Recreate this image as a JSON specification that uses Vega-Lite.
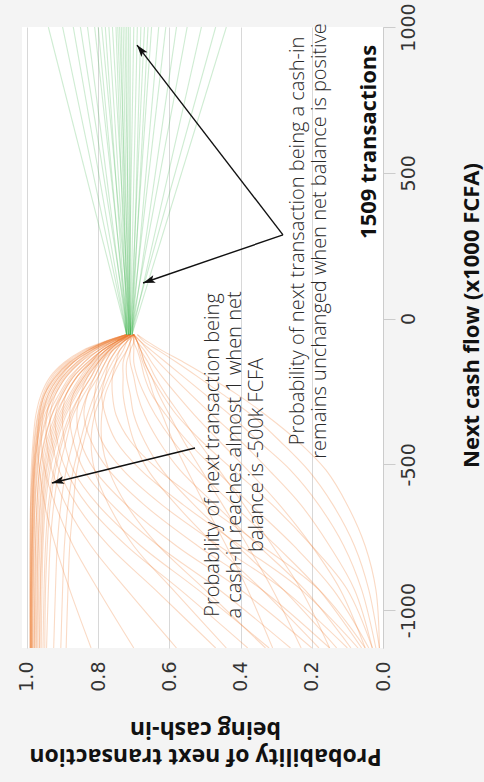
{
"$schema": "https://vega.github.io/schema/vega-lite/v6.json",
"width": 361, "height": 621,
"autosize": {"type": "none"},
"padding": {"left": 22, "top": 27, "right": 101, "bottom": 134},
"background": "#f4f4f4",
"config": {"view": {"fill": "white", "stroke": null}, "font": "Open Sans"},
"datasets": {
"orange": [
{"id":"A1","c":-55,"p":0.72},{"id":"A1","c":-80,"p":0.78},{"id":"A1","c":-110,"p":0.84},{"id":"A1","c":-150,"p":0.89},{"id":"A1","c":-200,"p":0.93},{"id":"A1","c":-260,"p":0.955},{"id":"A1","c":-330,"p":0.97},{"id":"A1","c":-420,"p":0.98},{"id":"A1","c":-520,"p":0.985},{"id":"A1","c":-640,"p":0.99},{"id":"A1","c":-780,"p":0.99},{"id":"A1","c":-930,"p":0.99},{"id":"A1","c":-1130,"p":0.99},
{"id":"A2","c":-55,"p":0.72},{"id":"A2","c":-80,"p":0.78},{"id":"A2","c":-110,"p":0.83},{"id":"A2","c":-150,"p":0.88},{"id":"A2","c":-200,"p":0.92},{"id":"A2","c":-260,"p":0.95},{"id":"A2","c":-330,"p":0.965},{"id":"A2","c":-420,"p":0.975},{"id":"A2","c":-520,"p":0.982},{"id":"A2","c":-640,"p":0.986},{"id":"A2","c":-780,"p":0.988},{"id":"A2","c":-930,"p":0.99},{"id":"A2","c":-1130,"p":0.99},
{"id":"A3","c":-55,"p":0.72},{"id":"A3","c":-80,"p":0.77},{"id":"A3","c":-110,"p":0.82},{"id":"A3","c":-150,"p":0.87},{"id":"A3","c":-200,"p":0.91},{"id":"A3","c":-260,"p":0.94},{"id":"A3","c":-330,"p":0.96},{"id":"A3","c":-420,"p":0.972},{"id":"A3","c":-520,"p":0.98},{"id":"A3","c":-640,"p":0.984},{"id":"A3","c":-780,"p":0.986},{"id":"A3","c":-930,"p":0.988},{"id":"A3","c":-1130,"p":0.988},
{"id":"A4","c":-55,"p":0.72},{"id":"A4","c":-80,"p":0.77},{"id":"A4","c":-110,"p":0.82},{"id":"A4","c":-150,"p":0.86},{"id":"A4","c":-200,"p":0.9},{"id":"A4","c":-260,"p":0.93},{"id":"A4","c":-330,"p":0.955},{"id":"A4","c":-420,"p":0.97},{"id":"A4","c":-520,"p":0.978},{"id":"A4","c":-640,"p":0.982},{"id":"A4","c":-780,"p":0.985},{"id":"A4","c":-930,"p":0.986},{"id":"A4","c":-1130,"p":0.987},
{"id":"A5","c":-55,"p":0.71},{"id":"A5","c":-80,"p":0.76},{"id":"A5","c":-110,"p":0.81},{"id":"A5","c":-150,"p":0.85},{"id":"A5","c":-200,"p":0.89},{"id":"A5","c":-260,"p":0.92},{"id":"A5","c":-330,"p":0.95},{"id":"A5","c":-420,"p":0.965},{"id":"A5","c":-520,"p":0.975},{"id":"A5","c":-640,"p":0.98},{"id":"A5","c":-780,"p":0.983},{"id":"A5","c":-930,"p":0.985},{"id":"A5","c":-1130,"p":0.985},
{"id":"A6","c":-55,"p":0.71},{"id":"A6","c":-80,"p":0.76},{"id":"A6","c":-110,"p":0.8},{"id":"A6","c":-150,"p":0.84},{"id":"A6","c":-200,"p":0.88},{"id":"A6","c":-260,"p":0.91},{"id":"A6","c":-330,"p":0.94},{"id":"A6","c":-420,"p":0.96},{"id":"A6","c":-520,"p":0.97},{"id":"A6","c":-640,"p":0.977},{"id":"A6","c":-780,"p":0.98},{"id":"A6","c":-930,"p":0.982},{"id":"A6","c":-1130,"p":0.983},
{"id":"A7","c":-55,"p":0.71},{"id":"A7","c":-80,"p":0.75},{"id":"A7","c":-110,"p":0.79},{"id":"A7","c":-150,"p":0.83},{"id":"A7","c":-200,"p":0.87},{"id":"A7","c":-260,"p":0.9},{"id":"A7","c":-330,"p":0.93},{"id":"A7","c":-420,"p":0.95},{"id":"A7","c":-520,"p":0.965},{"id":"A7","c":-640,"p":0.972},{"id":"A7","c":-780,"p":0.976},{"id":"A7","c":-930,"p":0.978},{"id":"A7","c":-1130,"p":0.98},
{"id":"A8","c":-55,"p":0.71},{"id":"A8","c":-80,"p":0.75},{"id":"A8","c":-110,"p":0.79},{"id":"A8","c":-150,"p":0.82},{"id":"A8","c":-200,"p":0.86},{"id":"A8","c":-260,"p":0.89},{"id":"A8","c":-330,"p":0.92},{"id":"A8","c":-420,"p":0.945},{"id":"A8","c":-520,"p":0.96},{"id":"A8","c":-640,"p":0.968},{"id":"A8","c":-780,"p":0.972},{"id":"A8","c":-930,"p":0.975},{"id":"A8","c":-1130,"p":0.977},
{"id":"A9","c":-55,"p":0.71},{"id":"A9","c":-80,"p":0.75},{"id":"A9","c":-110,"p":0.78},{"id":"A9","c":-150,"p":0.82},{"id":"A9","c":-200,"p":0.85},{"id":"A9","c":-260,"p":0.88},{"id":"A9","c":-330,"p":0.91},{"id":"A9","c":-420,"p":0.935},{"id":"A9","c":-520,"p":0.952},{"id":"A9","c":-640,"p":0.962},{"id":"A9","c":-780,"p":0.968},{"id":"A9","c":-930,"p":0.97},{"id":"A9","c":-1130,"p":0.972},
{"id":"A10","c":-55,"p":0.71},{"id":"A10","c":-80,"p":0.74},{"id":"A10","c":-110,"p":0.78},{"id":"A10","c":-150,"p":0.81},{"id":"A10","c":-200,"p":0.84},{"id":"A10","c":-260,"p":0.87},{"id":"A10","c":-330,"p":0.9},{"id":"A10","c":-420,"p":0.925},{"id":"A10","c":-520,"p":0.945},{"id":"A10","c":-640,"p":0.955},{"id":"A10","c":-780,"p":0.96},{"id":"A10","c":-930,"p":0.963},{"id":"A10","c":-1130,"p":0.965},
{"id":"A11","c":-55,"p":0.71},{"id":"A11","c":-80,"p":0.74},{"id":"A11","c":-110,"p":0.77},{"id":"A11","c":-150,"p":0.8},{"id":"A11","c":-200,"p":0.83},{"id":"A11","c":-260,"p":0.86},{"id":"A11","c":-330,"p":0.89},{"id":"A11","c":-420,"p":0.915},{"id":"A11","c":-520,"p":0.935},{"id":"A11","c":-640,"p":0.948},{"id":"A11","c":-780,"p":0.955},{"id":"A11","c":-930,"p":0.958},{"id":"A11","c":-1130,"p":0.96},
{"id":"A12","c":-55,"p":0.7},{"id":"A12","c":-80,"p":0.74},{"id":"A12","c":-110,"p":0.77},{"id":"A12","c":-150,"p":0.8},{"id":"A12","c":-200,"p":0.82},{"id":"A12","c":-260,"p":0.85},{"id":"A12","c":-330,"p":0.88},{"id":"A12","c":-420,"p":0.905},{"id":"A12","c":-520,"p":0.925},{"id":"A12","c":-640,"p":0.94},{"id":"A12","c":-780,"p":0.948},{"id":"A12","c":-930,"p":0.952},{"id":"A12","c":-1130,"p":0.955},
{"id":"A13","c":-55,"p":0.7},{"id":"A13","c":-80,"p":0.73},{"id":"A13","c":-110,"p":0.76},{"id":"A13","c":-150,"p":0.79},{"id":"A13","c":-200,"p":0.81},{"id":"A13","c":-260,"p":0.84},{"id":"A13","c":-330,"p":0.87},{"id":"A13","c":-420,"p":0.89},{"id":"A13","c":-520,"p":0.91},{"id":"A13","c":-640,"p":0.925},{"id":"A13","c":-780,"p":0.935},{"id":"A13","c":-930,"p":0.94},{"id":"A13","c":-1130,"p":0.945},
{"id":"A14","c":-55,"p":0.7},{"id":"A14","c":-80,"p":0.73},{"id":"A14","c":-110,"p":0.76},{"id":"A14","c":-150,"p":0.78},{"id":"A14","c":-200,"p":0.8},{"id":"A14","c":-260,"p":0.83},{"id":"A14","c":-330,"p":0.85},{"id":"A14","c":-420,"p":0.87},{"id":"A14","c":-520,"p":0.89},{"id":"A14","c":-640,"p":0.905},{"id":"A14","c":-780,"p":0.915},{"id":"A14","c":-930,"p":0.92},{"id":"A14","c":-1130,"p":0.925},
{"id":"A15","c":-55,"p":0.7},{"id":"A15","c":-80,"p":0.73},{"id":"A15","c":-110,"p":0.75},{"id":"A15","c":-150,"p":0.77},{"id":"A15","c":-200,"p":0.79},{"id":"A15","c":-260,"p":0.81},{"id":"A15","c":-330,"p":0.83},{"id":"A15","c":-420,"p":0.85},{"id":"A15","c":-520,"p":0.87},{"id":"A15","c":-640,"p":0.885},{"id":"A15","c":-780,"p":0.895},{"id":"A15","c":-930,"p":0.9},{"id":"A15","c":-1130,"p":0.905},
{"id":"A16","c":-55,"p":0.7},{"id":"A16","c":-80,"p":0.72},{"id":"A16","c":-110,"p":0.74},{"id":"A16","c":-150,"p":0.76},{"id":"A16","c":-200,"p":0.78},{"id":"A16","c":-260,"p":0.8},{"id":"A16","c":-330,"p":0.82},{"id":"A16","c":-420,"p":0.84},{"id":"A16","c":-520,"p":0.86},{"id":"A16","c":-640,"p":0.87},{"id":"A16","c":-780,"p":0.88},{"id":"A16","c":-930,"p":0.885},{"id":"A16","c":-1130,"p":0.89},
{"id":"A17","c":-55,"p":0.72},{"id":"A17","c":-80,"p":0.785},{"id":"A17","c":-110,"p":0.845},{"id":"A17","c":-150,"p":0.895},{"id":"A17","c":-200,"p":0.935},{"id":"A17","c":-260,"p":0.96},{"id":"A17","c":-330,"p":0.975},{"id":"A17","c":-420,"p":0.983},{"id":"A17","c":-520,"p":0.988},{"id":"A17","c":-640,"p":0.99},{"id":"A17","c":-780,"p":0.992},{"id":"A17","c":-930,"p":0.992},{"id":"A17","c":-1130,"p":0.992},
{"id":"A18","c":-55,"p":0.715},{"id":"A18","c":-80,"p":0.775},{"id":"A18","c":-110,"p":0.83},{"id":"A18","c":-150,"p":0.875},{"id":"A18","c":-200,"p":0.915},{"id":"A18","c":-260,"p":0.945},{"id":"A18","c":-330,"p":0.962},{"id":"A18","c":-420,"p":0.974},{"id":"A18","c":-520,"p":0.981},{"id":"A18","c":-640,"p":0.985},{"id":"A18","c":-780,"p":0.987},{"id":"A18","c":-930,"p":0.988},{"id":"A18","c":-1130,"p":0.988},
{"id":"A19","c":-55,"p":0.715},{"id":"A19","c":-80,"p":0.765},{"id":"A19","c":-110,"p":0.815},{"id":"A19","c":-150,"p":0.855},{"id":"A19","c":-200,"p":0.895},{"id":"A19","c":-260,"p":0.925},{"id":"A19","c":-330,"p":0.945},{"id":"A19","c":-420,"p":0.962},{"id":"A19","c":-520,"p":0.972},{"id":"A19","c":-640,"p":0.978},{"id":"A19","c":-780,"p":0.981},{"id":"A19","c":-930,"p":0.983},{"id":"A19","c":-1130,"p":0.984},
{"id":"A20","c":-55,"p":0.71},{"id":"A20","c":-80,"p":0.755},{"id":"A20","c":-110,"p":0.8},{"id":"A20","c":-150,"p":0.84},{"id":"A20","c":-200,"p":0.875},{"id":"A20","c":-260,"p":0.905},{"id":"A20","c":-330,"p":0.93},{"id":"A20","c":-420,"p":0.952},{"id":"A20","c":-520,"p":0.965},{"id":"A20","c":-640,"p":0.972},{"id":"A20","c":-780,"p":0.976},{"id":"A20","c":-930,"p":0.978},{"id":"A20","c":-1130,"p":0.979},
{"id":"A21","c":-55,"p":0.71},{"id":"A21","c":-80,"p":0.75},{"id":"A21","c":-110,"p":0.79},{"id":"A21","c":-150,"p":0.825},{"id":"A21","c":-200,"p":0.86},{"id":"A21","c":-260,"p":0.89},{"id":"A21","c":-330,"p":0.915},{"id":"A21","c":-420,"p":0.94},{"id":"A21","c":-520,"p":0.955},{"id":"A21","c":-640,"p":0.964},{"id":"A21","c":-780,"p":0.969},{"id":"A21","c":-930,"p":0.972},{"id":"A21","c":-1130,"p":0.974},
{"id":"A22","c":-55,"p":0.71},{"id":"A22","c":-80,"p":0.745},{"id":"A22","c":-110,"p":0.78},{"id":"A22","c":-150,"p":0.815},{"id":"A22","c":-200,"p":0.845},{"id":"A22","c":-260,"p":0.875},{"id":"A22","c":-330,"p":0.905},{"id":"A22","c":-420,"p":0.93},{"id":"A22","c":-520,"p":0.948},{"id":"A22","c":-640,"p":0.958},{"id":"A22","c":-780,"p":0.964},{"id":"A22","c":-930,"p":0.967},{"id":"A22","c":-1130,"p":0.969},
{"id":"A23","c":-55,"p":0.71},{"id":"A23","c":-80,"p":0.745},{"id":"A23","c":-110,"p":0.775},{"id":"A23","c":-150,"p":0.805},{"id":"A23","c":-200,"p":0.835},{"id":"A23","c":-260,"p":0.865},{"id":"A23","c":-330,"p":0.895},{"id":"A23","c":-420,"p":0.92},{"id":"A23","c":-520,"p":0.94},{"id":"A23","c":-640,"p":0.952},{"id":"A23","c":-780,"p":0.958},{"id":"A23","c":-930,"p":0.962},{"id":"A23","c":-1130,"p":0.964},
{"id":"A24","c":-55,"p":0.705},{"id":"A24","c":-80,"p":0.735},{"id":"A24","c":-110,"p":0.765},{"id":"A24","c":-150,"p":0.795},{"id":"A24","c":-200,"p":0.82},{"id":"A24","c":-260,"p":0.85},{"id":"A24","c":-330,"p":0.875},{"id":"A24","c":-420,"p":0.9},{"id":"A24","c":-520,"p":0.92},{"id":"A24","c":-640,"p":0.935},{"id":"A24","c":-780,"p":0.943},{"id":"A24","c":-930,"p":0.948},{"id":"A24","c":-1130,"p":0.95},
{"id":"A25","c":-55,"p":0.72},{"id":"A25","c":-80,"p":0.78},{"id":"A25","c":-110,"p":0.835},{"id":"A25","c":-150,"p":0.885},{"id":"A25","c":-200,"p":0.925},{"id":"A25","c":-260,"p":0.952},{"id":"A25","c":-330,"p":0.968},{"id":"A25","c":-420,"p":0.978},{"id":"A25","c":-520,"p":0.984},{"id":"A25","c":-640,"p":0.988},{"id":"A25","c":-780,"p":0.99},{"id":"A25","c":-930,"p":0.991},{"id":"A25","c":-1130,"p":0.991},
{"id":"A26","c":-55,"p":0.715},{"id":"A26","c":-80,"p":0.77},{"id":"A26","c":-110,"p":0.825},{"id":"A26","c":-150,"p":0.87},{"id":"A26","c":-200,"p":0.905},{"id":"A26","c":-260,"p":0.935},{"id":"A26","c":-330,"p":0.958},{"id":"A26","c":-420,"p":0.97},{"id":"A26","c":-520,"p":0.978},{"id":"A26","c":-640,"p":0.983},{"id":"A26","c":-780,"p":0.985},{"id":"A26","c":-930,"p":0.987},{"id":"A26","c":-1130,"p":0.988},
{"id":"B1","c":-55,"p":0.72},{"id":"B1","c":-80,"p":0.78},{"id":"B1","c":-110,"p":0.83},{"id":"B1","c":-150,"p":0.88},{"id":"B1","c":-200,"p":0.92},{"id":"B1","c":-260,"p":0.95},{"id":"B1","c":-330,"p":0.965},{"id":"B1","c":-420,"p":0.97},{"id":"B1","c":-520,"p":0.965},{"id":"B1","c":-640,"p":0.95},{"id":"B1","c":-780,"p":0.92},{"id":"B1","c":-930,"p":0.88},{"id":"B1","c":-1130,"p":0.82},
{"id":"B2","c":-55,"p":0.72},{"id":"B2","c":-80,"p":0.77},{"id":"B2","c":-110,"p":0.82},{"id":"B2","c":-150,"p":0.87},{"id":"B2","c":-200,"p":0.91},{"id":"B2","c":-260,"p":0.94},{"id":"B2","c":-330,"p":0.955},{"id":"B2","c":-420,"p":0.96},{"id":"B2","c":-520,"p":0.95},{"id":"B2","c":-640,"p":0.92},{"id":"B2","c":-780,"p":0.87},{"id":"B2","c":-930,"p":0.8},{"id":"B2","c":-1130,"p":0.7},
{"id":"B3","c":-55,"p":0.71},{"id":"B3","c":-80,"p":0.76},{"id":"B3","c":-110,"p":0.81},{"id":"B3","c":-150,"p":0.86},{"id":"B3","c":-200,"p":0.9},{"id":"B3","c":-260,"p":0.93},{"id":"B3","c":-330,"p":0.945},{"id":"B3","c":-420,"p":0.945},{"id":"B3","c":-520,"p":0.93},{"id":"B3","c":-640,"p":0.89},{"id":"B3","c":-780,"p":0.82},{"id":"B3","c":-930,"p":0.72},{"id":"B3","c":-1130,"p":0.58},
{"id":"B4","c":-55,"p":0.71},{"id":"B4","c":-80,"p":0.76},{"id":"B4","c":-110,"p":0.8},{"id":"B4","c":-150,"p":0.85},{"id":"B4","c":-200,"p":0.89},{"id":"B4","c":-260,"p":0.92},{"id":"B4","c":-330,"p":0.935},{"id":"B4","c":-420,"p":0.93},{"id":"B4","c":-520,"p":0.91},{"id":"B4","c":-640,"p":0.86},{"id":"B4","c":-780,"p":0.77},{"id":"B4","c":-930,"p":0.64},{"id":"B4","c":-1130,"p":0.47},
{"id":"B5","c":-55,"p":0.71},{"id":"B5","c":-80,"p":0.75},{"id":"B5","c":-110,"p":0.79},{"id":"B5","c":-150,"p":0.83},{"id":"B5","c":-200,"p":0.87},{"id":"B5","c":-260,"p":0.9},{"id":"B5","c":-330,"p":0.92},{"id":"B5","c":-420,"p":0.915},{"id":"B5","c":-520,"p":0.89},{"id":"B5","c":-640,"p":0.83},{"id":"B5","c":-780,"p":0.72},{"id":"B5","c":-930,"p":0.57},{"id":"B5","c":-1130,"p":0.38},
{"id":"B6","c":-55,"p":0.71},{"id":"B6","c":-80,"p":0.75},{"id":"B6","c":-110,"p":0.79},{"id":"B6","c":-150,"p":0.82},{"id":"B6","c":-200,"p":0.86},{"id":"B6","c":-260,"p":0.89},{"id":"B6","c":-330,"p":0.9},{"id":"B6","c":-420,"p":0.895},{"id":"B6","c":-520,"p":0.87},{"id":"B6","c":-640,"p":0.8},{"id":"B6","c":-780,"p":0.68},{"id":"B6","c":-930,"p":0.52},{"id":"B6","c":-1130,"p":0.32},
{"id":"B7","c":-55,"p":0.71},{"id":"B7","c":-80,"p":0.75},{"id":"B7","c":-110,"p":0.78},{"id":"B7","c":-150,"p":0.81},{"id":"B7","c":-200,"p":0.84},{"id":"B7","c":-260,"p":0.87},{"id":"B7","c":-330,"p":0.88},{"id":"B7","c":-420,"p":0.87},{"id":"B7","c":-520,"p":0.84},{"id":"B7","c":-640,"p":0.76},{"id":"B7","c":-780,"p":0.63},{"id":"B7","c":-930,"p":0.46},{"id":"B7","c":-1130,"p":0.26},
{"id":"B8","c":-55,"p":0.71},{"id":"B8","c":-80,"p":0.74},{"id":"B8","c":-110,"p":0.77},{"id":"B8","c":-150,"p":0.8},{"id":"B8","c":-200,"p":0.83},{"id":"B8","c":-260,"p":0.85},{"id":"B8","c":-330,"p":0.86},{"id":"B8","c":-420,"p":0.85},{"id":"B8","c":-520,"p":0.81},{"id":"B8","c":-640,"p":0.72},{"id":"B8","c":-780,"p":0.58},{"id":"B8","c":-930,"p":0.4},{"id":"B8","c":-1130,"p":0.2},
{"id":"B9","c":-55,"p":0.7},{"id":"B9","c":-80,"p":0.74},{"id":"B9","c":-110,"p":0.77},{"id":"B9","c":-150,"p":0.79},{"id":"B9","c":-200,"p":0.81},{"id":"B9","c":-260,"p":0.83},{"id":"B9","c":-330,"p":0.84},{"id":"B9","c":-420,"p":0.82},{"id":"B9","c":-520,"p":0.77},{"id":"B9","c":-640,"p":0.67},{"id":"B9","c":-780,"p":0.52},{"id":"B9","c":-930,"p":0.34},{"id":"B9","c":-1130,"p":0.15},
{"id":"B10","c":-55,"p":0.7},{"id":"B10","c":-80,"p":0.73},{"id":"B10","c":-110,"p":0.76},{"id":"B10","c":-150,"p":0.78},{"id":"B10","c":-200,"p":0.8},{"id":"B10","c":-260,"p":0.81},{"id":"B10","c":-330,"p":0.81},{"id":"B10","c":-420,"p":0.79},{"id":"B10","c":-520,"p":0.73},{"id":"B10","c":-640,"p":0.62},{"id":"B10","c":-780,"p":0.46},{"id":"B10","c":-930,"p":0.28},{"id":"B10","c":-1130,"p":0.1},
{"id":"B11","c":-55,"p":0.7},{"id":"B11","c":-80,"p":0.73},{"id":"B11","c":-110,"p":0.75},{"id":"B11","c":-150,"p":0.77},{"id":"B11","c":-200,"p":0.78},{"id":"B11","c":-260,"p":0.79},{"id":"B11","c":-330,"p":0.78},{"id":"B11","c":-420,"p":0.75},{"id":"B11","c":-520,"p":0.68},{"id":"B11","c":-640,"p":0.56},{"id":"B11","c":-780,"p":0.4},{"id":"B11","c":-930,"p":0.23},{"id":"B11","c":-1130,"p":0.07},
{"id":"B12","c":-55,"p":0.7},{"id":"B12","c":-80,"p":0.72},{"id":"B12","c":-110,"p":0.74},{"id":"B12","c":-150,"p":0.75},{"id":"B12","c":-200,"p":0.76},{"id":"B12","c":-260,"p":0.76},{"id":"B12","c":-330,"p":0.75},{"id":"B12","c":-420,"p":0.71},{"id":"B12","c":-520,"p":0.63},{"id":"B12","c":-640,"p":0.5},{"id":"B12","c":-780,"p":0.34},{"id":"B12","c":-930,"p":0.18},{"id":"B12","c":-1130,"p":0.05},
{"id":"C1","c":-55,"p":0.7},{"id":"C1","c":-80,"p":0.71},{"id":"C1","c":-110,"p":0.72},{"id":"C1","c":-150,"p":0.73},{"id":"C1","c":-200,"p":0.73},{"id":"C1","c":-260,"p":0.73},{"id":"C1","c":-330,"p":0.72},{"id":"C1","c":-420,"p":0.7},{"id":"C1","c":-520,"p":0.66},{"id":"C1","c":-640,"p":0.58},{"id":"C1","c":-780,"p":0.47},{"id":"C1","c":-930,"p":0.34},{"id":"C1","c":-1130,"p":0.18},
{"id":"C2","c":-55,"p":0.7},{"id":"C2","c":-80,"p":0.71},{"id":"C2","c":-110,"p":0.71},{"id":"C2","c":-150,"p":0.72},{"id":"C2","c":-200,"p":0.72},{"id":"C2","c":-260,"p":0.71},{"id":"C2","c":-330,"p":0.7},{"id":"C2","c":-420,"p":0.67},{"id":"C2","c":-520,"p":0.62},{"id":"C2","c":-640,"p":0.53},{"id":"C2","c":-780,"p":0.41},{"id":"C2","c":-930,"p":0.28},{"id":"C2","c":-1130,"p":0.13},
{"id":"C3","c":-55,"p":0.7},{"id":"C3","c":-80,"p":0.7},{"id":"C3","c":-110,"p":0.71},{"id":"C3","c":-150,"p":0.71},{"id":"C3","c":-200,"p":0.7},{"id":"C3","c":-260,"p":0.69},{"id":"C3","c":-330,"p":0.67},{"id":"C3","c":-420,"p":0.63},{"id":"C3","c":-520,"p":0.57},{"id":"C3","c":-640,"p":0.47},{"id":"C3","c":-780,"p":0.35},{"id":"C3","c":-930,"p":0.22},{"id":"C3","c":-1130,"p":0.09},
{"id":"C4","c":-55,"p":0.7},{"id":"C4","c":-80,"p":0.7},{"id":"C4","c":-110,"p":0.7},{"id":"C4","c":-150,"p":0.7},{"id":"C4","c":-200,"p":0.69},{"id":"C4","c":-260,"p":0.67},{"id":"C4","c":-330,"p":0.64},{"id":"C4","c":-420,"p":0.59},{"id":"C4","c":-520,"p":0.52},{"id":"C4","c":-640,"p":0.42},{"id":"C4","c":-780,"p":0.3},{"id":"C4","c":-930,"p":0.18},{"id":"C4","c":-1130,"p":0.06},
{"id":"C5","c":-55,"p":0.7},{"id":"C5","c":-80,"p":0.7},{"id":"C5","c":-110,"p":0.69},{"id":"C5","c":-150,"p":0.68},{"id":"C5","c":-200,"p":0.67},{"id":"C5","c":-260,"p":0.65},{"id":"C5","c":-330,"p":0.61},{"id":"C5","c":-420,"p":0.55},{"id":"C5","c":-520,"p":0.47},{"id":"C5","c":-640,"p":0.37},{"id":"C5","c":-780,"p":0.25},{"id":"C5","c":-930,"p":0.14},{"id":"C5","c":-1130,"p":0.04},
{"id":"C6","c":-55,"p":0.7},{"id":"C6","c":-80,"p":0.69},{"id":"C6","c":-110,"p":0.68},{"id":"C6","c":-150,"p":0.67},{"id":"C6","c":-200,"p":0.65},{"id":"C6","c":-260,"p":0.62},{"id":"C6","c":-330,"p":0.58},{"id":"C6","c":-420,"p":0.51},{"id":"C6","c":-520,"p":0.42},{"id":"C6","c":-640,"p":0.31},{"id":"C6","c":-780,"p":0.2},{"id":"C6","c":-930,"p":0.1},{"id":"C6","c":-1130,"p":0.03},
{"id":"C7","c":-55,"p":0.71},{"id":"C7","c":-80,"p":0.71},{"id":"C7","c":-110,"p":0.72},{"id":"C7","c":-150,"p":0.74},{"id":"C7","c":-200,"p":0.76},{"id":"C7","c":-260,"p":0.78},{"id":"C7","c":-330,"p":0.79},{"id":"C7","c":-420,"p":0.79},{"id":"C7","c":-520,"p":0.77},{"id":"C7","c":-640,"p":0.72},{"id":"C7","c":-780,"p":0.63},{"id":"C7","c":-930,"p":0.5},{"id":"C7","c":-1130,"p":0.33},
{"id":"C8","c":-55,"p":0.71},{"id":"C8","c":-80,"p":0.72},{"id":"C8","c":-110,"p":0.73},{"id":"C8","c":-150,"p":0.75},{"id":"C8","c":-200,"p":0.77},{"id":"C8","c":-260,"p":0.79},{"id":"C8","c":-330,"p":0.81},{"id":"C8","c":-420,"p":0.82},{"id":"C8","c":-520,"p":0.81},{"id":"C8","c":-640,"p":0.77},{"id":"C8","c":-780,"p":0.7},{"id":"C8","c":-930,"p":0.59},{"id":"C8","c":-1130,"p":0.44},
{"id":"D1","c":-55,"p":0.7},{"id":"D1","c":-80,"p":0.69},{"id":"D1","c":-110,"p":0.67},{"id":"D1","c":-150,"p":0.65},{"id":"D1","c":-200,"p":0.62},{"id":"D1","c":-260,"p":0.58},{"id":"D1","c":-330,"p":0.53},{"id":"D1","c":-420,"p":0.46},{"id":"D1","c":-520,"p":0.38},{"id":"D1","c":-640,"p":0.29},{"id":"D1","c":-780,"p":0.2},{"id":"D1","c":-930,"p":0.12},{"id":"D1","c":-1130,"p":0.05},
{"id":"D2","c":-55,"p":0.7},{"id":"D2","c":-80,"p":0.68},{"id":"D2","c":-110,"p":0.66},{"id":"D2","c":-150,"p":0.63},{"id":"D2","c":-200,"p":0.59},{"id":"D2","c":-260,"p":0.54},{"id":"D2","c":-330,"p":0.48},{"id":"D2","c":-420,"p":0.4},{"id":"D2","c":-520,"p":0.32},{"id":"D2","c":-640,"p":0.23},{"id":"D2","c":-780,"p":0.15},{"id":"D2","c":-930,"p":0.08},{"id":"D2","c":-1130,"p":0.03},
{"id":"D3","c":-55,"p":0.7},{"id":"D3","c":-80,"p":0.68},{"id":"D3","c":-110,"p":0.65},{"id":"D3","c":-150,"p":0.61},{"id":"D3","c":-200,"p":0.56},{"id":"D3","c":-260,"p":0.5},{"id":"D3","c":-330,"p":0.43},{"id":"D3","c":-420,"p":0.35},{"id":"D3","c":-520,"p":0.26},{"id":"D3","c":-640,"p":0.18},{"id":"D3","c":-780,"p":0.11},{"id":"D3","c":-930,"p":0.06},{"id":"D3","c":-1130,"p":0.02},
{"id":"D4","c":-55,"p":0.69},{"id":"D4","c":-80,"p":0.67},{"id":"D4","c":-110,"p":0.63},{"id":"D4","c":-150,"p":0.58},{"id":"D4","c":-200,"p":0.52},{"id":"D4","c":-260,"p":0.45},{"id":"D4","c":-330,"p":0.37},{"id":"D4","c":-420,"p":0.29},{"id":"D4","c":-520,"p":0.21},{"id":"D4","c":-640,"p":0.14},{"id":"D4","c":-780,"p":0.08},{"id":"D4","c":-930,"p":0.04},{"id":"D4","c":-1130,"p":0.01},
{"id":"D5","c":-55,"p":0.7},{"id":"D5","c":-80,"p":0.69},{"id":"D5","c":-110,"p":0.68},{"id":"D5","c":-150,"p":0.66},{"id":"D5","c":-200,"p":0.64},{"id":"D5","c":-260,"p":0.61},{"id":"D5","c":-330,"p":0.57},{"id":"D5","c":-420,"p":0.52},{"id":"D5","c":-520,"p":0.46},{"id":"D5","c":-640,"p":0.39},{"id":"D5","c":-780,"p":0.31},{"id":"D5","c":-930,"p":0.23},{"id":"D5","c":-1130,"p":0.15},
{"id":"D6","c":-55,"p":0.7},{"id":"D6","c":-80,"p":0.69},{"id":"D6","c":-110,"p":0.68},{"id":"D6","c":-150,"p":0.67},{"id":"D6","c":-200,"p":0.65},{"id":"D6","c":-260,"p":0.63},{"id":"D6","c":-330,"p":0.6},{"id":"D6","c":-420,"p":0.56},{"id":"D6","c":-520,"p":0.51},{"id":"D6","c":-640,"p":0.45},{"id":"D6","c":-780,"p":0.38},{"id":"D6","c":-930,"p":0.31},{"id":"D6","c":-1130,"p":0.23},
{"id":"D7","c":-55,"p":0.69},{"id":"D7","c":-80,"p":0.66},{"id":"D7","c":-110,"p":0.62},{"id":"D7","c":-150,"p":0.56},{"id":"D7","c":-200,"p":0.49},{"id":"D7","c":-260,"p":0.41},{"id":"D7","c":-330,"p":0.33},{"id":"D7","c":-420,"p":0.24},{"id":"D7","c":-520,"p":0.16},{"id":"D7","c":-640,"p":0.1},{"id":"D7","c":-780,"p":0.05},{"id":"D7","c":-930,"p":0.02},{"id":"D7","c":-1130,"p":0.01},
{"id":"D8","c":-55,"p":0.7},{"id":"D8","c":-80,"p":0.69},{"id":"D8","c":-110,"p":0.685},{"id":"D8","c":-150,"p":0.675},{"id":"D8","c":-200,"p":0.66},{"id":"D8","c":-260,"p":0.645},{"id":"D8","c":-330,"p":0.62},{"id":"D8","c":-420,"p":0.59},{"id":"D8","c":-520,"p":0.55},{"id":"D8","c":-640,"p":0.5},{"id":"D8","c":-780,"p":0.44},{"id":"D8","c":-930,"p":0.38},{"id":"D8","c":-1130,"p":0.31}
],
"green": [
{"id":"g1","c":-55,"p":0.72},{"id":"g1","c":1000,"p":0.94},
{"id":"g2","c":-55,"p":0.72},{"id":"g2","c":1000,"p":0.9},
{"id":"g3","c":-55,"p":0.72},{"id":"g3","c":1000,"p":0.87},
{"id":"g4","c":-55,"p":0.715},{"id":"g4","c":1000,"p":0.85},
{"id":"g5","c":-55,"p":0.72},{"id":"g5","c":1000,"p":0.83},
{"id":"g6","c":-55,"p":0.715},{"id":"g6","c":1000,"p":0.81},
{"id":"g7","c":-55,"p":0.72},{"id":"g7","c":1000,"p":0.8},
{"id":"g8","c":-55,"p":0.71},{"id":"g8","c":1000,"p":0.79},
{"id":"g9","c":-55,"p":0.72},{"id":"g9","c":1000,"p":0.78},
{"id":"g10","c":-55,"p":0.715},{"id":"g10","c":1000,"p":0.77},
{"id":"g11","c":-55,"p":0.71},{"id":"g11","c":1000,"p":0.76},
{"id":"g12","c":-55,"p":0.72},{"id":"g12","c":1000,"p":0.75},
{"id":"g13","c":-55,"p":0.715},{"id":"g13","c":1000,"p":0.745},
{"id":"g14","c":-55,"p":0.71},{"id":"g14","c":1000,"p":0.74},
{"id":"g15","c":-55,"p":0.72},{"id":"g15","c":1000,"p":0.735},
{"id":"g16","c":-55,"p":0.715},{"id":"g16","c":1000,"p":0.73},
{"id":"g17","c":-55,"p":0.71},{"id":"g17","c":1000,"p":0.725},
{"id":"g18","c":-55,"p":0.715},{"id":"g18","c":1000,"p":0.72},
{"id":"g19","c":-55,"p":0.71},{"id":"g19","c":1000,"p":0.715},
{"id":"g20","c":-55,"p":0.71},{"id":"g20","c":1000,"p":0.71},
{"id":"g21","c":-55,"p":0.715},{"id":"g21","c":1000,"p":0.7},
{"id":"g22","c":-55,"p":0.71},{"id":"g22","c":1000,"p":0.69},
{"id":"g23","c":-55,"p":0.705},{"id":"g23","c":1000,"p":0.68},
{"id":"g24","c":-55,"p":0.71},{"id":"g24","c":1000,"p":0.67},
{"id":"g25","c":-55,"p":0.705},{"id":"g25","c":1000,"p":0.66},
{"id":"g26","c":-55,"p":0.71},{"id":"g26","c":1000,"p":0.65},
{"id":"g27","c":-55,"p":0.705},{"id":"g27","c":1000,"p":0.63},
{"id":"g28","c":-55,"p":0.71},{"id":"g28","c":1000,"p":0.61},
{"id":"g29","c":-55,"p":0.705},{"id":"g29","c":1000,"p":0.58},
{"id":"g30","c":-55,"p":0.71},{"id":"g30","c":1000,"p":0.55},
{"id":"g31","c":-55,"p":0.705},{"id":"g31","c":1000,"p":0.51},
{"id":"g32","c":-55,"p":0.71},{"id":"g32","c":1000,"p":0.47},
{"id":"g33","c":-55,"p":0.705},{"id":"g33","c":1000,"p":0.44}
],
"notes": [
{"id":"n1","t":"Probability of next transaction being\na cash-in reaches almost 1 when net\nbalance is -500k FCFA","p":0.478,"c":-468},
{"id":"n2","t":"Probability of next transaction being a cash-in\nremains unchanged when net balance is positive","p":0.239,"c":266}
],
"count": [{"t":"1509 transactions","p":0.039,"c":606}],
"arrows": [
{"id":"a","p":0.528,"c":-444,"p2":0.93,"c2":-564},
{"id":"b","p":0.281,"c":287,"p2":0.691,"c2":938},
{"id":"d","p":0.281,"c":287,"p2":0.674,"c2":122}
]
},
"layer": [
{
"data": {"name": "orange"},
"mark": {"type": "line", "interpolate": "catmull-rom", "color": "#ee7a2e", "opacity": 0.28, "strokeWidth": 1.1, "clip": true},
"encoding": {
"x": {"field": "p", "type": "quantitative",
"scale": {"domain": [0, 1.014], "reverse": true, "nice": false, "zero": false},
"axis": {"orient": "bottom", "values": [0, 0.2, 0.4, 0.6, 0.8, 1], "format": ".1f", "labelAngle": -90, "labelAlign": "right", "labelBaseline": "middle", "labelPadding": 13, "labelFontSize": 19, "labelFont": "DejaVu Sans", "labelColor": "#333", "labelFlush": false, "labelOverlap": false, "ticks": false, "domain": false, "grid": true, "gridColor": "#d8d8d8", "gridWidth": 1,
"title": ["Probability of next transaction", "being cash-in"], "titleAngle": 180, "titleFontSize": 23, "titleFont": "Open Sans", "titleFontWeight": "bold", "titleColor": "#111", "titleLineHeight": 27, "titleAlign": "center", "titleBaseline": "alphabetic", "titleX": 183, "titleY": 100}},
"y": {"field": "c", "type": "quantitative",
"scale": {"domain": [-1130, 1000], "nice": false, "zero": false},
"axis": {"orient": "right", "values": [-1000, -500, 0, 500, 1000], "labelExpr": "datum.value + ''", "labelAngle": -90, "labelAlign": "center", "labelBaseline": "middle", "labelPadding": 13, "labelFontSize": 19, "labelFont": "DejaVu Sans", "labelColor": "#333", "labelFlush": false, "labelOverlap": false, "tickSize": 12, "tickColor": "#cccccc", "domainColor": "#cccccc", "grid": false,
"title": "Next cash flow (x1000 FCFA)", "titleAngle": 270, "titleFontSize": 22, "titleFont": "Open Sans", "titleFontWeight": "bold", "titleColor": "#111", "titleAlign": "center", "titleBaseline": "alphabetic", "titleX": 95, "titleY": 288}},
"detail": {"field": "id", "type": "nominal"},
"order": {"field": "c", "type": "quantitative"}
}
},
{
"data": {"name": "green"},
"mark": {"type": "line", "color": "#3bb24c", "opacity": 0.25, "strokeWidth": 1.1, "clip": true},
"encoding": {
"x": {"field": "p", "type": "quantitative"},
"y": {"field": "c", "type": "quantitative"},
"detail": {"field": "id", "type": "nominal"},
"order": {"field": "c", "type": "quantitative"}
}
},
{
"data": {"name": "notes"},
"mark": {"type": "text", "angle": 270, "fontSize": 20, "font": "Open Sans", "fontWeight": 300, "color": "#2a2a2a", "align": "center", "baseline": "middle", "lineBreak": "\n", "lineHeight": 22},
"encoding": {
"x": {"field": "p", "type": "quantitative"},
"y": {"field": "c", "type": "quantitative"},
"text": {"field": "t", "type": "nominal"}
}
},
{
"data": {"name": "count"},
"mark": {"type": "text", "angle": 270, "fontSize": 22, "font": "Open Sans", "fontWeight": "bold", "color": "#111", "align": "center", "baseline": "middle"},
"encoding": {
"x": {"field": "p", "type": "quantitative"},
"y": {"field": "c", "type": "quantitative"},
"text": {"field": "t", "type": "nominal"}
}
},
{
"data": {"name": "arrows"},
"mark": {"type": "rule", "color": "#111", "strokeWidth": 1.4},
"encoding": {
"x": {"field": "p", "type": "quantitative"},
"y": {"field": "c", "type": "quantitative"},
"x2": {"field": "p2"},
"y2": {"field": "c2"}
}
},
{
"data": {"name": "arrows"},
"transform": [{"filter": "datum.id === 'a'"}],
"mark": {"type": "point", "shape": "M0,0L-0.45,1.4L0,1.1L0.45,1.4Z", "filled": true, "color": "#111", "opacity": 1, "size": 300, "angle": 256},
"encoding": {
"x": {"field": "p2", "type": "quantitative"},
"y": {"field": "c2", "type": "quantitative"}
}
},
{
"data": {"name": "arrows"},
"transform": [{"filter": "datum.id === 'b'"}],
"mark": {"type": "point", "shape": "M0,0L-0.45,1.4L0,1.1L0.45,1.4Z", "filled": true, "color": "#111", "opacity": 1, "size": 300, "angle": 322},
"encoding": {
"x": {"field": "p2", "type": "quantitative"},
"y": {"field": "c2", "type": "quantitative"}
}
},
{
"data": {"name": "arrows"},
"transform": [{"filter": "datum.id === 'd'"}],
"mark": {"type": "point", "shape": "M0,0L-0.45,1.4L0,1.1L0.45,1.4Z", "filled": true, "color": "#111", "opacity": 1, "size": 300, "angle": 251},
"encoding": {
"x": {"field": "p2", "type": "quantitative"},
"y": {"field": "c2", "type": "quantitative"}
}
}
]
}
